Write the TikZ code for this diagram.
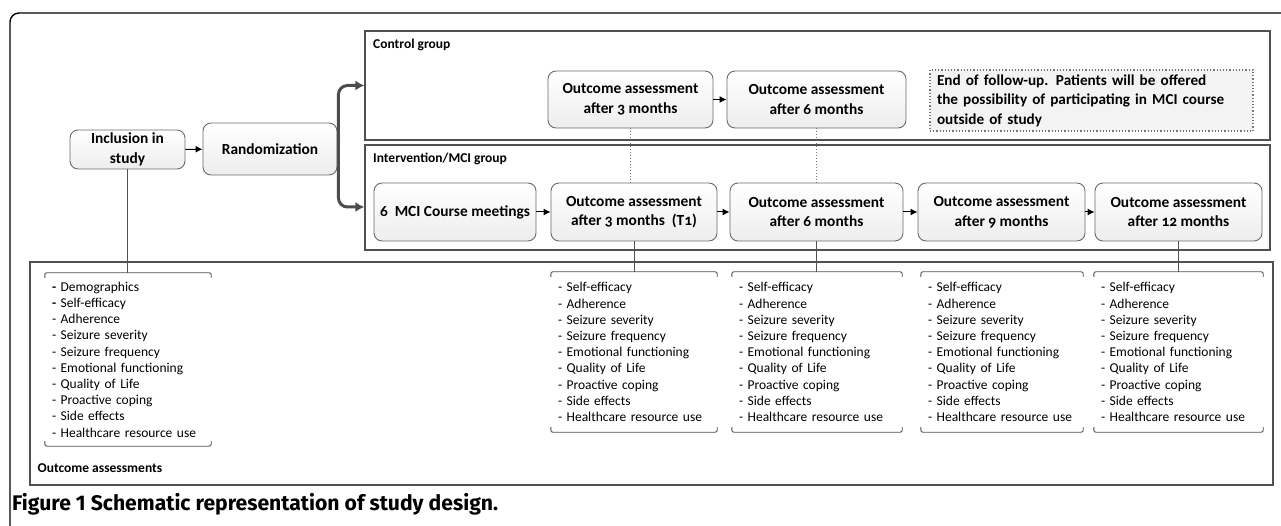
\documentclass[tikz,border=0pt]{standalone}
\usepackage{fontspec}
\setmainfont{Carlito}[Numbers=OldStyle]
\newfontfamily\capfont{Fira Sans}
\usetikzlibrary{arrows.meta}
\definecolor{boxline}{HTML}{6A6A6A}
\definecolor{grpline}{HTML}{505050}
\definecolor{branchc}{HTML}{4D4D4D}
\definecolor{dotc}{HTML}{777777}
\definecolor{endfill}{HTML}{F3F3F3}
\newcommand\brk[1]{%
  \draw[brkline] ([yshift=-5pt]#1.north west) -- (#1.north west) -- (#1.north east) -- ([yshift=-5pt]#1.north east);
  \draw[brkline] ([yshift=5pt]#1.south west) -- (#1.south west) -- (#1.south east) -- ([yshift=5pt]#1.south east);}
\begin{document}
\begin{tikzpicture}[x=1pt,y=-1pt,
  rbox/.style={draw=boxline, line width=0.9pt, rounded corners=8pt, top color=white, bottom color=black!7,
    align=center, inner sep=0pt, font=\bfseries\fontsize{15.4}{19.5}\selectfont},
  grp/.style={draw=grpline, line width=1.2pt, inner sep=0pt},
  lst/.style={inner sep=0pt, inner xsep=7pt, align=left, font=\fontsize{13.5}{16.2}\selectfont},
  lbl/.style={inner sep=0pt, font=\bfseries\fontsize{13.5}{16}\selectfont},
  brkline/.style={draw=grpline, line width=0.9pt, rounded corners=2pt},
  arr/.style={-{Latex[length=7pt,width=7pt]}, line width=1pt, black},
  branch/.style={-{Latex[length=9pt,width=10pt]}, line width=3pt, draw=branchc, rounded corners=9pt},
  conn/.style={draw=grpline, line width=0.9pt},
  dotl/.style={draw=dotc, line width=1pt, dotted}
]
\useasboundingbox (0,0) rectangle (1281,526);
% outer frame
\draw[line width=1.4pt, rounded corners=9pt] (10,526) -- (10,13) -- (1285,13);

% group boxes
\node[grp, minimum width=905pt, minimum height=109pt] (ctrl) at (817.5,85.5) {};
\node[grp, minimum width=905pt, minimum height=105pt] (interv) at (817.5,197.5) {};
\node[grp, minimum width=1243pt, minimum height=223pt] (outc) at (651.5,373.5) {};

\node[lbl, anchor=base west] (lctrl) at (373,48.5) {Control group};
\node[lbl, anchor=base west] (linterv) at (373,162.5) {Intervention/MCI group};
\node[lbl, anchor=base west] (loutc) at (37.5,472.5) {Outcome assessments};

% left boxes
\node[rbox, minimum width=115pt, minimum height=39pt] (incl) at (127.5,149.5) {Inclusion in\\study};
\node[rbox, minimum width=134pt, minimum height=52pt] (rand) at (270,149) {Randomization};

% control row
\node[rbox, minimum width=165pt, minimum height=57pt] (c3) at (630.5,99.5) {Outcome assessment\\after 3 months};
\node[rbox, minimum width=179pt, minimum height=57pt] (c6) at (816.5,99.5) {Outcome assessment\\after 6 months};
\node[draw=dotc, dotted, line width=1.2pt, fill=endfill, minimum width=323pt, minimum height=61pt, inner sep=0pt, inner xsep=7pt,
  text width=309pt, align=left, font=\bfseries\fontsize{15.2}{19.5}\selectfont] (endf) at (1091.5,100.5)
  {End of follow-up. Patients will be offered\\the possibility of participating in MCI course\\outside of study};

% intervention row
\node[rbox, minimum width=162pt, minimum height=58pt] (mci) at (455,212) {6\ \ MCI Course meetings};
\node[rbox, minimum width=166pt, minimum height=58pt] (t1) at (634,212) {Outcome assessment\\after 3 months\ \ (T1)};
\node[rbox, minimum width=173pt, minimum height=58pt] (i6) at (816.5,212) {Outcome assessment\\after 6 months};
\node[rbox, minimum width=167pt, minimum height=58pt] (i9) at (1001.5,212) {Outcome assessment\\after 9 months};
\node[rbox, minimum width=167pt, minimum height=58pt] (i12) at (1178.5,212) {Outcome assessment\\after 12 months};

% lists
\node[lst, text width=152pt, minimum height=173pt] (l1) at (128,359.5) {\textbf{-} Demographics\\\textbf{-} Self-efficacy\\- Adherence\\- Seizure severity\\- Seizure frequency\\- Emotional functioning\\- Quality of Life\\- Proactive coping\\- Side effects\\- Healthcare resource use};
\node[lst, text width=152pt, minimum height=160pt] (l2) at (634,352) {- Self-efficacy\\- Adherence\\- Seizure severity\\- Seizure frequency\\- Emotional functioning\\- Quality of Life\\- Proactive coping\\- Side effects\\- Healthcare resource use};
\node[lst, text width=156pt, minimum height=160pt] (l3) at (817,352) {- Self-efficacy\\- Adherence\\- Seizure severity\\- Seizure frequency\\- Emotional functioning\\- Quality of Life\\- Proactive coping\\- Side effects\\- Healthcare resource use};
\node[lst, text width=148pt, minimum height=160pt] (l4) at (1002,352) {- Self-efficacy\\- Adherence\\- Seizure severity\\- Seizure frequency\\- Emotional functioning\\- Quality of Life\\- Proactive coping\\- Side effects\\- Healthcare resource use};
\node[lst, text width=155pt, minimum height=160pt] (l5) at (1178.5,352) {- Self-efficacy\\- Adherence\\- Seizure severity\\- Seizure frequency\\- Emotional functioning\\- Quality of Life\\- Proactive coping\\- Side effects\\- Healthcare resource use};
\brk{l1}\brk{l2}\brk{l3}\brk{l4}\brk{l5}

% connectors
\draw[arr] (incl) -- (rand);
\coordinate (bi) at ([yshift=-9.5pt]interv.west);
\draw[branch] ([xshift=1pt]rand.east) |- (ctrl.west);
\draw[branch] ([xshift=1pt]rand.east) |- (bi);
\draw[arr] (c3) -- (c6);
\draw[arr] (mci) -- (t1);
\draw[arr] (t1) -- (i6);
\draw[arr] (i6) -- (i9);
\draw[arr] (i9) -- (i12);
\draw[dotl] (c3.south) -- (c3.south |- t1.north);
\draw[dotl] (c6.south) -- (c6.south |- i6.north);
\draw[conn] (incl.south) -- (incl.south |- l1.north);
\draw[conn] (t1.south) -- (l2.north);
\draw[conn] (i6.south) -- (i6.south |- l3.north);
\draw[conn] (i12.south) -- (l5.north);

% caption
\node[anchor=base west, inner sep=0pt] (cap) at (12,510) {\capfont\bfseries\resizebox{486pt}{!}{Figure 1 Schematic representation of study design.}};
\end{tikzpicture}
\end{document}
